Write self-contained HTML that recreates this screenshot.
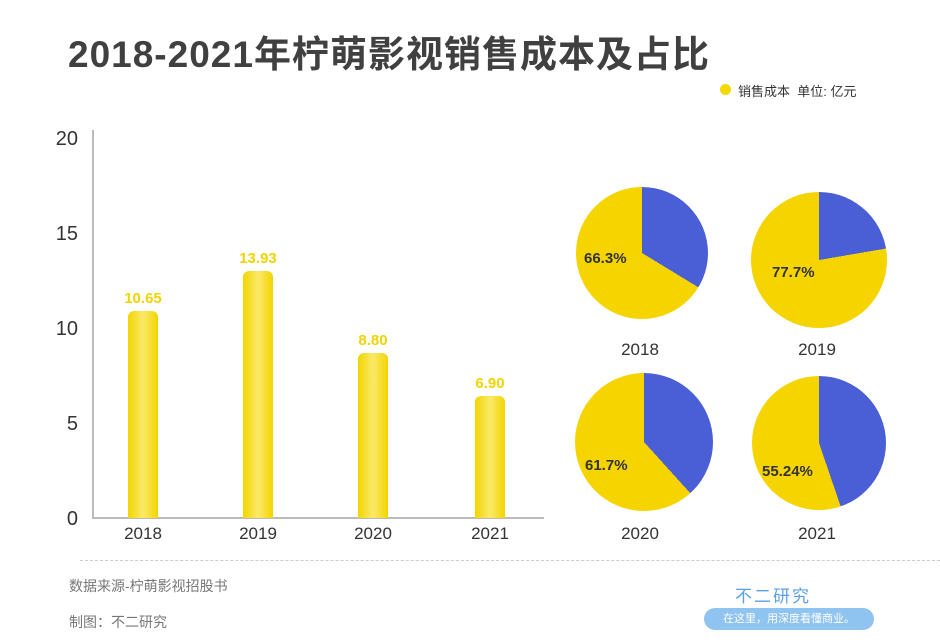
<!DOCTYPE html>
<html><head><meta charset="utf-8"><style>
body{margin:0;width:940px;height:644px;background:#fff;position:relative;overflow:hidden;font-family:"Liberation Sans","Noto Sans CJK SC",sans-serif;}
.a{position:absolute}
.t{left:68px;top:24px;font-size:37px;font-weight:bold;color:#404040;letter-spacing:1px}
.yl{font-size:20px;color:#333;width:30px;text-align:right;left:48px}
.bar{width:30px;border-radius:6px 6px 0 0;background:linear-gradient(90deg,#f2d500,#fbe96a 50%,#f2d500)}
.bv{font-size:15px;font-weight:bold;color:#f0d400;width:80px;text-align:center}
.xl{font-size:17px;color:#333;width:80px;text-align:center}
.pie{border-radius:50%}
.pl{font-size:15px;font-weight:bold;color:#333}
.py{font-size:17px;color:#333;width:80px;text-align:center}
</style></head><body>
<div class="a t">2018-2021年柠萌影视销售成本及占比</div>
<div class="a" style="left:720px;top:84px;width:11px;height:11px;border-radius:50%;background:#f5d800"></div>
<div class="a" style="left:738px;top:81px;font-size:13px;color:#333">销售成本&nbsp;&nbsp;单位: 亿元</div>

<div class="a yl" style="top:128px">20</div>
<div class="a yl" style="top:223px">15</div>
<div class="a yl" style="top:318px">10</div>
<div class="a yl" style="top:413px">5</div>
<div class="a yl" style="top:508px">0</div>
<div class="a" style="left:92px;top:130px;width:2px;height:389px;background:#bbb"></div>
<div class="a" style="left:92px;top:517px;width:452px;height:2px;background:#bbb"></div>

<div class="a bar" style="left:128px;top:311px;height:207px"></div>
<div class="a bar" style="left:243px;top:271px;height:247px"></div>
<div class="a bar" style="left:358px;top:353px;height:165px"></div>
<div class="a bar" style="left:475px;top:396px;height:122px"></div>
<div class="a bv" style="left:103px;top:290px">10.65</div>
<div class="a bv" style="left:218px;top:250px">13.93</div>
<div class="a bv" style="left:333px;top:332px">8.80</div>
<div class="a bv" style="left:450px;top:375px">6.90</div>
<div class="a xl" style="left:103px;top:524px">2018</div>
<div class="a xl" style="left:218px;top:524px">2019</div>
<div class="a xl" style="left:333px;top:524px">2020</div>
<div class="a xl" style="left:450px;top:524px">2021</div>

<div class="a pie" style="left:576px;top:187px;width:132px;height:132px;background:conic-gradient(#4a5ed6 0 33.7%,#f5d400 0)"></div>
<div class="a pie" style="left:751px;top:192px;width:136px;height:136px;background:conic-gradient(#4a5ed6 0 22.3%,#f5d400 0)"></div>
<div class="a pie" style="left:575px;top:373px;width:138px;height:138px;background:conic-gradient(#4a5ed6 0 38.3%,#f5d400 0)"></div>
<div class="a pie" style="left:752px;top:376px;width:134px;height:134px;background:conic-gradient(#4a5ed6 0 44.76%,#f5d400 0)"></div>
<div class="a pl" style="left:584px;top:250px">66.3%</div>
<div class="a pl" style="left:772px;top:264px">77.7%</div>
<div class="a pl" style="left:585px;top:457px">61.7%</div>
<div class="a pl" style="left:762px;top:463px">55.24%</div>
<div class="a py" style="left:600px;top:340px">2018</div>
<div class="a py" style="left:777px;top:340px">2019</div>
<div class="a py" style="left:600px;top:524px">2020</div>
<div class="a py" style="left:777px;top:524px">2021</div>

<div class="a" style="left:80px;top:560px;width:860px;border-top:1px dashed #ccc"></div>
<div class="a" style="left:69px;top:576px;font-size:14px;color:#777">数据来源-柠萌影视招股书</div>
<div class="a" style="left:69px;top:612px;font-size:14px;color:#777">制图：不二研究</div>
<div class="a" style="left:735px;top:582px;font-size:17px;color:#5aa0e6;letter-spacing:2px">不二研究</div>
<div class="a" style="left:704px;top:608px;width:170px;height:22px;border-radius:11px;background:#8fc3f0;color:#fff;font-size:11px;line-height:22px;text-align:center">在这里，用深度看懂商业。</div>
</body></html>
